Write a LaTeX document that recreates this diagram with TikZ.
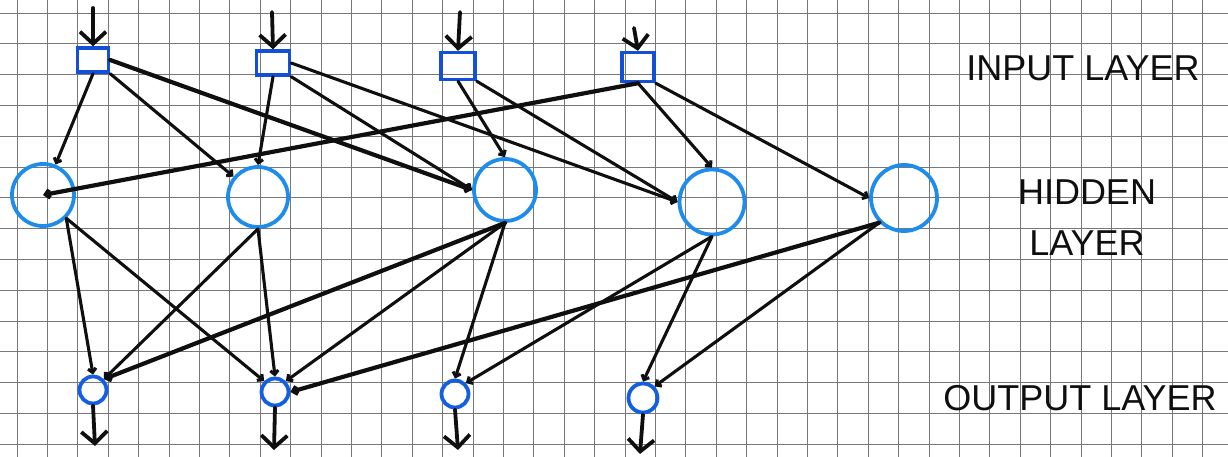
\documentclass[tikz,border=0pt]{standalone}
\usepackage{fontspec}
\setmainfont{Liberation Sans}
\usetikzlibrary{arrows.meta}
\definecolor{gridc}{RGB}{120,120,120}
\definecolor{boxblue}{RGB}{20,80,215}
\definecolor{hidblue}{RGB}{30,140,235}
\definecolor{outblue}{RGB}{20,95,225}
\definecolor{ink}{RGB}{15,15,15}
\tikzset{
  inbox/.style={draw=boxblue, line width=3.4pt, minimum width=31pt, minimum height=24pt, inner sep=0pt},
  hid/.style={draw=hidblue, circle, line width=3.8pt, inner sep=0pt},
  outn/.style={draw=outblue, circle, line width=3.8pt, minimum size=27pt, inner sep=0pt},
  conn/.style={draw=ink, line width=3.1pt, line cap=round, -{Straight Barb[length=4pt,width=8pt]}},
  thickconn/.style={conn, line width=4.2pt},
  ioarrow/.style={draw=ink, line width=3.8pt, line cap=round, -{Straight Barb[length=12pt,width=26pt,line width=3.8pt]}},
  lab/.style={text=ink, font=\fontsize{36}{40}\selectfont, inner sep=0pt, anchor=center}
}
\begin{document}
\begin{tikzpicture}[x=1pt,y=-1pt]
\useasboundingbox (0,0) rectangle (1228,457);
\fill[white] (0,0) rectangle (1228,457);
% grid
\foreach \k in {0,...,40} {
  \draw[gridc, line width=0.8pt] ({17+30.4*\k},0) -- ({17+30.4*\k},457);
}
\foreach \k in {0,...,14} {
  \draw[gridc, line width=0.8pt] (0,{13+30.8*\k}) -- (1228,{13+30.8*\k});
}
% input layer
\node[inbox] (i1) at (93,60) {};
\node[inbox, minimum width=33pt] (i2) at (273,63) {};
\node[inbox, minimum width=34pt, minimum height=27pt] (i3) at (458,66) {};
\node[inbox, minimum width=32pt, minimum height=29pt] (i4) at (638,67) {};
% hidden layer
\node[hid, minimum size=62pt] (h1) at (43,195) {};
\node[hid, minimum size=60pt] (h2) at (258,197) {};
\node[hid, minimum size=62pt] (h3) at (505,190) {};
\node[hid, minimum size=65pt] (h4) at (712,202) {};
\node[hid, minimum size=66pt] (h5) at (904,198) {};
% output layer
\node[outn] (o1) at (93,390) {};
\node[outn] (o2) at (275,392) {};
\node[outn] (o3) at (455,394) {};
\node[outn, minimum size=29pt] (o4) at (643,398) {};
% input arrows
\coordinate (a1) at (93,8);
\coordinate (a2) at (272,12);
\coordinate (a3) at (460,12);
\coordinate (a4) at (634,28);
\draw[ioarrow] (a1) -- (i1.north);
\draw[ioarrow] (a2) -- (i2.north);
\draw[ioarrow] (a3) -- (i3.north);
\draw[ioarrow] (a4) -- (i4.north);
% output arrows
\coordinate (b1) at (95,446);
\coordinate (b2) at (274,450);
\coordinate (b3) at (458,450);
\coordinate (b4) at (640,454);
\draw[ioarrow] (o1.south) -- (b1);
\draw[ioarrow] (o2.south) -- (b2);
\draw[ioarrow] (o3.south) -- (b3);
\draw[ioarrow] (o4.south) -- (b4);
% input -> hidden
\draw[conn] (i1.south) -- (h1);
\draw[conn] (i1.south east) -- (h2);
\draw[thickconn] (i1.east) -- (h3.west);
\draw[conn] (i2.south) -- (h2.north);
\draw[conn] (i2.south east) -- (h3.west);
\draw[conn] (i2.east) -- (h4.west);
\draw[conn] (i3.south) -- (h3.north);
\draw[conn] (i3.south east) -- (h4.west);
\draw[thickconn] (i4.south) -- (h1.center);
\draw[conn] (i4.south) -- (h4.north);
\draw[conn] (i4.south east) -- (h5.west);
% hidden -> output
\draw[conn] (h1.south east) -- (o1.north);
\draw[conn] (h1.south east) -- (o2.north west);
\draw[conn] (h2.south) -- (o1.north east);
\draw[conn] (h2.south) -- (o2.north);
\draw[thickconn] (h3.south) -- (o1.north east);
\draw[conn] (h3.south) -- (o2.north east);
\draw[conn] (h3.south) -- (o3.north);
\draw[conn] (h4.south) -- (o3.north east);
\draw[conn] (h4.south) -- (o4.north);
\draw[thickconn] (h5.south west) -- (o2.east);
\draw[conn] (h5.south west) -- (o4.north east);
% labels
\node[lab] (l1) at (1083,68) {INPUT LAYER};
\node[lab] (l2) at (1087,192) {HIDDEN};
\node[lab] (l3) at (1087,243) {LAYER};
\node[lab] (l4) at (1080,398) {OUTPUT LAYER};
\end{tikzpicture}
\end{document}
